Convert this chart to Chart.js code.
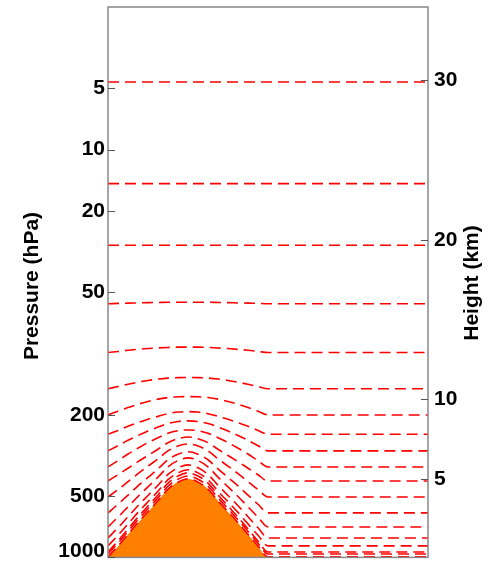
<!DOCTYPE html>
<html><head><meta charset="utf-8">
<script src="https://cdn.jsdelivr.net/npm/chart.js@4.4.0/dist/chart.umd.min.js"></script>
<style>html,body{margin:0;padding:0;background:#fff;}canvas{display:block;}</style>
</head><body>
<canvas id="c" width="490" height="562"></canvas>
<script>
// horizontal positions (arbitrary distance units across the plot)
const xPositions = [0,10,20,30,40,50,60,70,80,90,100,110,120,130,140,150,160,320];
const pressureTicks = [5,10,20,50,200,500,1000];
const heightTicks = [5,10,20,30];
// mountain surface height (km)
const mountain = [0.10,0.79,1.53,2.26,2.95,3.64,4.38,4.82,5.02,4.82,4.38,3.64,2.95,2.26,1.53,0.79,0.10,0.10];
// dashed surfaces (km)
const line01 = [29.90,29.90,29.90,29.90,29.90,29.90,29.90,29.90,29.90,29.90,29.90,29.90,29.90,29.90,29.90,29.90,29.90,29.90];
const line02 = [23.53,23.53,23.53,23.53,23.53,23.53,23.53,23.53,23.53,23.53,23.53,23.53,23.53,23.53,23.53,23.53,23.53,23.53];
const line03 = [19.67,19.67,19.67,19.67,19.67,19.67,19.67,19.67,19.67,19.67,19.67,19.67,19.67,19.67,19.67,19.67,19.67,19.67];
const line04 = [16.00,16.02,16.04,16.05,16.07,16.08,16.09,16.09,16.09,16.09,16.09,16.08,16.07,16.05,16.04,16.02,16.00,16.00];
const line05 = [12.94,13.01,13.08,13.14,13.19,13.23,13.26,13.28,13.28,13.28,13.26,13.23,13.19,13.14,13.08,13.01,12.94,12.94];
const line06 = [10.67,10.81,10.95,11.08,11.19,11.28,11.34,11.37,11.38,11.37,11.34,11.28,11.19,11.08,10.95,10.81,10.67,10.67];
const line07 = [9.03,9.26,9.49,9.70,9.87,10.02,10.12,10.17,10.18,10.17,10.12,10.02,9.87,9.70,9.49,9.26,9.03,9.03];
const line08 = [7.82,8.06,8.32,8.54,8.76,8.94,9.11,9.21,9.24,9.21,9.11,8.94,8.76,8.54,8.32,8.06,7.82,7.82];
const line09 = [6.78,7.10,7.44,7.74,8.02,8.27,8.49,8.62,8.66,8.62,8.49,8.27,8.02,7.74,7.44,7.10,6.78,6.78];
const line10 = [5.77,6.16,6.58,6.95,7.30,7.60,7.88,8.04,8.09,8.04,7.88,7.60,7.30,6.95,6.58,6.16,5.77,5.77];
const line11 = [4.89,5.28,5.69,6.10,6.49,6.88,7.29,7.54,7.65,7.54,7.29,6.88,6.49,6.10,5.69,5.28,4.89,4.89];
const line12 = [3.89,4.35,4.85,5.35,5.82,6.28,6.78,7.08,7.21,7.08,6.78,6.28,5.82,5.35,4.85,4.35,3.89,3.89];
const line13 = [2.89,3.43,4.00,4.58,5.11,5.65,6.22,6.57,6.72,6.57,6.22,5.65,5.11,4.58,4.00,3.43,2.89,2.89];
const line14 = [2.01,2.62,3.27,3.92,4.52,5.13,5.78,6.17,6.34,6.17,5.78,5.13,4.52,3.92,3.27,2.62,2.01,2.01];
const line15 = [1.32,1.96,2.65,3.34,3.98,4.62,5.30,5.72,5.90,5.72,5.30,4.62,3.98,3.34,2.65,1.96,1.32,1.32];
const line16 = [0.82,1.49,2.20,2.92,3.59,4.25,4.97,5.40,5.59,5.40,4.97,4.25,3.59,2.92,2.20,1.49,0.82,0.82];
const line17 = [0.44,1.13,1.88,2.62,3.32,4.01,4.76,5.20,5.40,5.20,4.76,4.01,3.32,2.62,1.88,1.13,0.44,0.44];
const line18 = [0.31,0.99,1.73,2.46,3.15,3.83,4.56,5.00,5.20,5.00,4.56,3.83,3.15,2.46,1.73,0.99,0.31,0.31];
const line19 = [0.13,0.81,1.55,2.28,2.97,3.65,4.38,4.82,5.02,4.82,4.38,3.65,2.97,2.28,1.55,0.81,0.13,0.13];
const surfaces = [line01,line02,line03,line04,line05,line06,line07,line08,line09,line10,line11,line12,line13,line14,line15,line16,line17,line18,line19];

const FAMILY = '"Liberation Sans", Arial, Helvetica, sans-serif';
const FONT = {family:FAMILY, size:21, weight:'bold'};
const FONT_LAST = {family:FAMILY, size:21, weight:'bold', lineHeight:0.55};
const toPts = arr => xPositions.map((x,i)=>({x:x, y:arr[i]}));

const datasets = [{
  data: toPts(mountain), yAxisID:'y2', xAxisID:'x', fill:'start',
  backgroundColor:'#ff8000', borderColor:'#ff8000', borderWidth:0, pointRadius:0,
  cubicInterpolationMode:'monotone', order:1
}];
surfaces.forEach(arr => datasets.push({
  data: toPts(arr), yAxisID:'y2', xAxisID:'x', fill:false,
  borderColor:'#ff0000', borderWidth:1.6, borderDash:[11,6], pointRadius:0,
  cubicInterpolationMode:'monotone', order:0
}));

const framePlugin = {
  id:'frame',
  afterDraw(chart){
    const {ctx, chartArea:a} = chart;
    ctx.save();
    ctx.strokeStyle = '#888888';
    ctx.lineWidth = 1.5;
    ctx.strokeRect(a.left, a.top, a.right-a.left, a.bottom-a.top);
    ctx.lineWidth = 1;
    ctx.strokeStyle = '#555555';
    const yl = chart.scales.y, yr = chart.scales.y2;
    yl.ticks.forEach(t => { const p = Math.round(yl.getPixelForValue(t.value))+0.5; ctx.beginPath(); ctx.moveTo(a.left, p); ctx.lineTo(a.left+7, p); ctx.stroke(); });
    yr.ticks.forEach(t => { const p = Math.round(yr.getPixelForValue(t.value))+0.5; ctx.beginPath(); ctx.moveTo(a.right, p); ctx.lineTo(a.right-7, p); ctx.stroke(); });
    ctx.fillStyle = '#000';
    ctx.font = 'bold 21px ' + FAMILY;
    ctx.textAlign = 'center';
    ctx.textBaseline = 'middle';
    ctx.save(); ctx.translate(32, 286); ctx.rotate(-Math.PI/2); ctx.fillText('Pressure (hPa)', 0, 0); ctx.restore();
    ctx.save(); ctx.translate(472, 283); ctx.rotate(-Math.PI/2); ctx.fillText('Height (km)', 0, 0); ctx.restore();
    ctx.restore();
  }
};

new Chart(document.getElementById('c'), {
  type:'line',
  data:{datasets},
  options:{
    responsive:false, animation:false, parsing:true,
    layout:{padding:{top:7, bottom:4.6, left:0, right:0}},
    plugins:{legend:{display:false}, tooltip:{enabled:false}},
    scales:{
      x:{type:'linear', min:0, max:320, display:false},
      y:{type:'logarithmic', position:'left', reverse:true, min:2, max:1000,
         grid:{display:false, drawTicks:false}, border:{display:false},
         ticks:{font:c => (c.tick && c.tick.value === 1000) ? FONT_LAST : FONT,
                color:'#000', padding:3, autoSkip:false,
                callback:v => v === 1000 ? [String(v), ''] : String(v)},
         afterBuildTicks:s=>{ s.ticks = pressureTicks.map(v=>({value:v})); },
         afterFit:s=>{ s.width = 108; s.paddingTop = 0; s.paddingBottom = 0; }
      },
      y2:{type:'linear', position:'right', min:0.1, max:34.6,
         grid:{display:false, drawTicks:false}, border:{display:false},
         ticks:{font:FONT, color:'#000', padding:6, autoSkip:false, callback:v=>String(v)},
         afterBuildTicks:s=>{ s.ticks = heightTicks.map(v=>({value:v})); },
         afterFit:s=>{ s.width = 62; s.paddingTop = 0; s.paddingBottom = 0; }
      }
    }
  },
  plugins:[framePlugin]
});
</script>
</body></html>
